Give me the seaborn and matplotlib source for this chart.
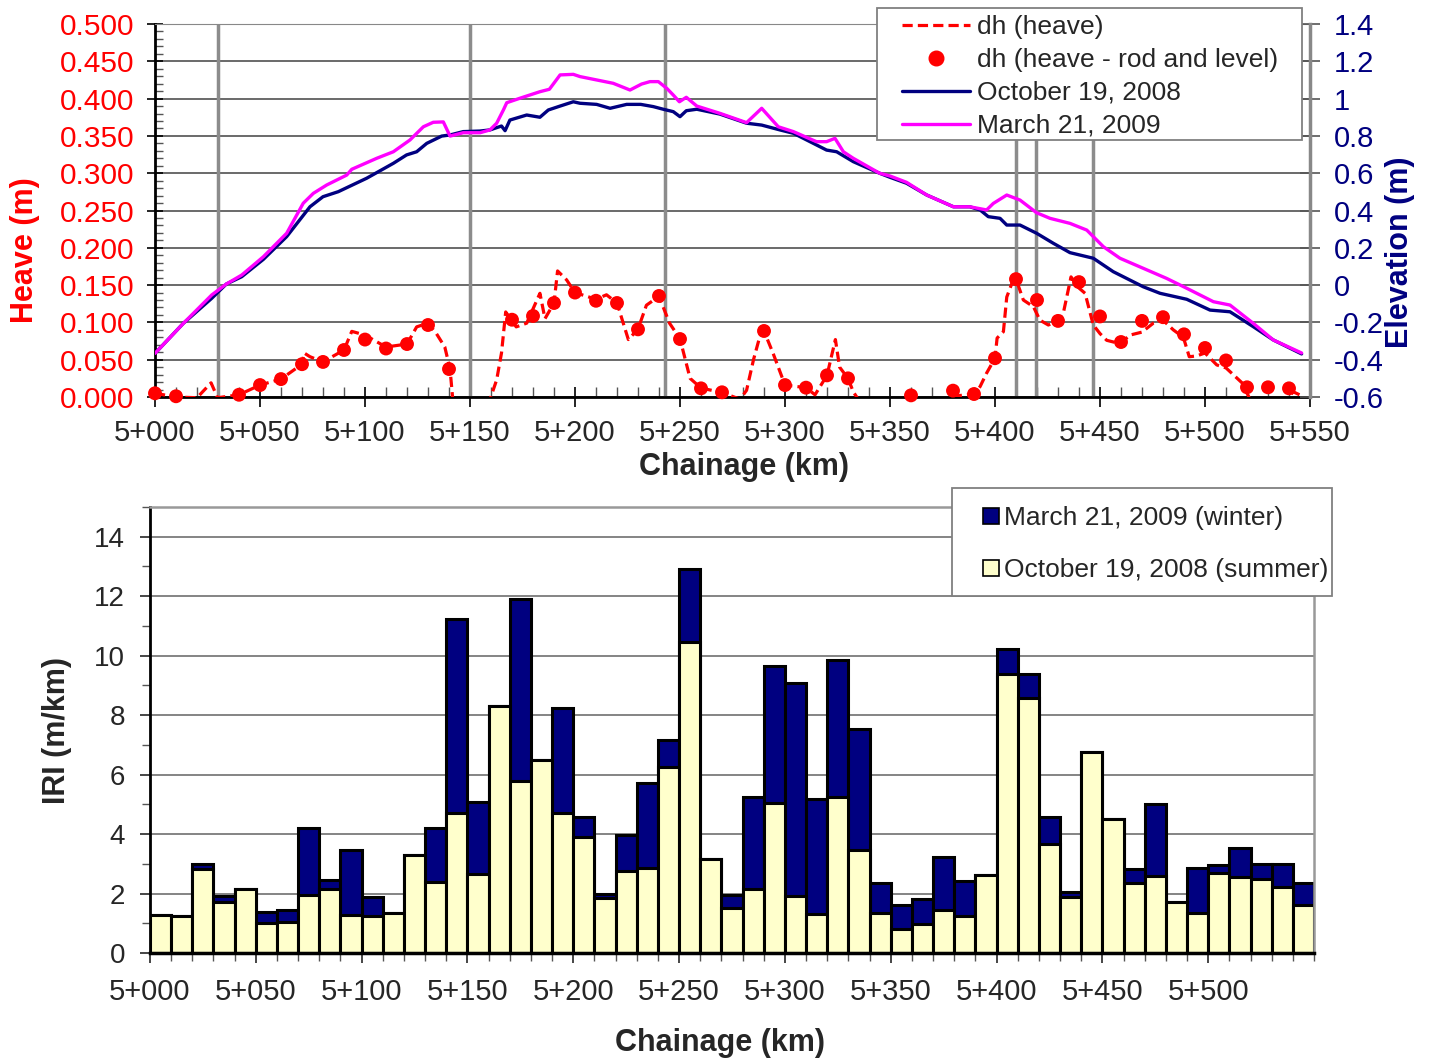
import matplotlib
matplotlib.use("Agg")
import numpy as np
import pandas as pd
import matplotlib.pyplot as plt
import seaborn as sns
from matplotlib.lines import Line2D
from matplotlib.patches import Rectangle
from matplotlib.ticker import MultipleLocator, FuncFormatter

# ---------------- top panel data ----------------
# elevation profiles (m), right axis
oct_chainage = [0, 13.5, 27, 34, 41.3, 51.6, 62.7, 73.8, 80, 87.3, 100.8, 113.5, 119.8, 124.6,
                129.4, 136.5, 140.5, 146.8, 154.8, 159.5, 165, 166.7, 169, 177, 183.3, 187.3,
                192.9, 199.2, 202.4, 210.3, 216.7, 224.6, 231.3, 237.3, 242, 246.8, 250, 253,
                258, 269, 281.7, 288.9, 297.6, 304, 313.5, 319.8, 324.6, 332.5, 345, 350,
                357.9, 367.5, 380.2, 388, 392.9, 396.8, 402.4, 405.6, 411.9, 419.8, 427.8,
                435.7, 446.8, 456.3, 470.6, 478.6, 491.3, 502.4, 511.9, 523, 532.5, 546]
oct_elev = [-0.366, -0.205, -0.071, 0.006, 0.045, 0.138, 0.260, 0.420, 0.474, 0.501, 0.573,
            0.653, 0.698, 0.715, 0.760, 0.799, 0.805, 0.823, 0.826, 0.832, 0.853, 0.828, 0.885,
            0.912, 0.900, 0.939, 0.960, 0.983, 0.975, 0.969, 0.948, 0.969, 0.969, 0.957, 0.943,
            0.930, 0.903, 0.935, 0.943, 0.917, 0.868, 0.858, 0.832, 0.814, 0.760, 0.724, 0.715,
            0.662, 0.600, 0.578, 0.546, 0.483, 0.420, 0.420, 0.403, 0.367, 0.358, 0.322, 0.322,
            0.278, 0.224, 0.174, 0.144, 0.072, -0.009, -0.044, -0.076, -0.134, -0.143, -0.223,
            -0.294, -0.369]

mar_chainage = [0, 13.5, 27, 34, 41.3, 51.6, 62.7, 70.6, 75.4, 81.8, 91.3, 93.7, 105.6, 113.5,
                121.4, 127.8, 132.5, 137.3, 140.5, 146.8, 154.8, 159.5, 162.7, 165.9, 167.5,
                173.8, 183.3, 187.8, 192.9, 199.2, 202.4, 218.2, 226.2, 231.7, 235.7, 239.7,
                243.7, 246.8, 249.7, 253, 258, 269, 281.7, 288.9, 296.8, 304, 315, 319.8, 323.8,
                327.8, 332.5, 345, 350, 357.9, 367.5, 380.2, 388, 396, 399.2, 405.6, 411.9,
                419.8, 426.2, 435.7, 443.7, 451.6, 459.5, 470.6, 481.7, 491.3, 504, 511.9, 523,
                532.5, 546]
mar_elev = [-0.366, -0.205, -0.053, 0.006, 0.054, 0.152, 0.278, 0.439, 0.492, 0.537, 0.590,
            0.621, 0.680, 0.715, 0.778, 0.849, 0.873, 0.875, 0.799, 0.817, 0.817, 0.832, 0.868,
            0.939, 0.978, 1.002, 1.037, 1.050, 1.127, 1.130, 1.118, 1.082, 1.046, 1.078, 1.091,
            1.091, 1.055, 1.019, 0.983, 1.007, 0.960, 0.921, 0.871, 0.948, 0.849, 0.823, 0.769,
            0.769, 0.787, 0.715, 0.680, 0.600, 0.585, 0.551, 0.483, 0.420, 0.420, 0.403, 0.438,
            0.483, 0.456, 0.388, 0.358, 0.331, 0.295, 0.206, 0.144, 0.090, 0.036, -0.017,
            -0.089, -0.107, -0.205, -0.294, -0.364]

# heave dh (m), left axis
dh_chainage = [0, 10, 20, 26.7, 29.8, 40, 50, 60, 70, 71, 73.8, 80, 90, 93.7, 100, 110, 120,
               124.6, 130, 134, 138, 140.5, 142, 158.7, 162.7, 165, 167, 172, 177, 183.3, 185.7,
               190, 191.7, 196, 200, 210, 215, 220, 225.4, 230, 234, 240, 245, 250, 254.8, 260,
               270, 278.6, 281.7, 285, 288, 290, 294.4, 300, 310, 314.3, 320, 324, 326, 330,
               332.5, 336.5, 377, 380, 390, 392.9, 396, 400, 401, 404, 405.6, 408, 410, 413.5,
               418.3, 421.4, 425.4, 430, 432.5, 436.2, 440, 442.9, 446.8, 450, 453.2, 459.5,
               464.3, 470, 475.4, 480, 484.9, 489.7, 492.5, 496, 500, 505.6, 510, 518, 522.5,
               537, 542, 545]
dh_values = [0.005, 0.0, -0.001, 0.019, -0.001, 0.003, 0.016, 0.024, 0.044, 0.059, 0.054, 0.047,
             0.063, 0.088, 0.083, 0.067, 0.071, 0.094, 0.099, 0.085, 0.067, 0.0375, -0.01, -0.01,
             0.023, 0.059, 0.114, 0.094, 0.099, 0.139, 0.105, 0.126, 0.169, 0.157, 0.140, 0.131,
             0.137, 0.126, 0.077, 0.091, 0.123, 0.135, 0.099, 0.078, 0.025, 0.012, 0.006, -0.003,
             0.009, 0.050, 0.081, 0.0885, 0.058, 0.016, 0.0125, 0.003, 0.029, 0.077, 0.040,
             0.025, 0.007, -0.01, -0.01, 0.001, 0.004, 0.014, 0.032, 0.052, 0.079, 0.0875,
             0.134, 0.152, 0.158, 0.130, 0.121, 0.103, 0.0965, 0.102, 0.112, 0.161, 0.146,
             0.139, 0.0965, 0.085, 0.076, 0.0715, 0.083, 0.087, 0.099, 0.103, 0.090, 0.080,
             0.054, 0.055, 0.059, 0.043, 0.039, 0.018, -0.01, -0.01, 0.007, 0.003]

# heave from rod and level survey
rod_chainage = [0, 10, 40, 50, 60, 70, 80, 90, 100, 110, 120, 130, 140, 170, 180, 190, 200, 210,
                220, 230, 240, 250, 260, 270, 290, 300, 310, 320, 330, 360, 380, 390, 400, 410,
                420, 430, 440, 450, 460, 470, 480, 490, 500, 510, 520, 530, 540]
rod_heave = [0.005, 0.001, 0.003, 0.016, 0.024, 0.044, 0.047, 0.063, 0.077, 0.065, 0.071, 0.0965,
             0.0375, 0.1036, 0.1086, 0.126, 0.140, 0.129, 0.126, 0.0907, 0.1354, 0.0777, 0.0116,
             0.0063, 0.0885, 0.016, 0.0125, 0.029, 0.025, 0.0022, 0.0085, 0.004, 0.052, 0.158,
             0.130, 0.102, 0.154, 0.108, 0.0737, 0.102, 0.107, 0.084, 0.0657, 0.049, 0.013,
             0.013, 0.0116]

# chainages marked with vertical lines
marker_chainages = [30, 150, 243, 410, 419.5, 446.7]

# ---------------- bottom panel data ----------------
iri_start = list(range(0, 550, 10))
iri_winter = [1.28, 1.23, 3.01, 1.92, 2.14, 1.38, 1.45, 4.19, 2.47, 3.46,
              1.90, 1.35, 3.29, 4.20, 11.24, 5.07, 8.31, 11.9, 6.48, 8.25,
              4.56, 1.98, 3.98, 5.72, 7.15, 12.9, 3.15, 1.96, 5.23, 9.65,
              9.07, 5.18, 9.85, 7.55, 2.37, 1.61, 1.81, 3.23, 2.41, 2.63,
              10.21, 9.375, 4.58, 2.06, 6.75, 4.52, 2.81, 5.02, 1.73, 2.85,
              2.96, 3.52, 2.98, 2.98, 2.37]
iri_summer = [1.28, 1.23, 2.83, 1.73, 2.14, 1.00, 1.05, 1.95, 2.14, 1.28,
              1.25, 1.33, 3.29, 2.40, 4.71, 2.65, 8.31, 5.79, 6.48, 4.72,
              3.91, 1.86, 2.76, 2.87, 6.26, 10.45, 3.15, 1.53, 2.15, 5.05,
              1.92, 1.31, 5.25, 3.45, 1.33, 0.80, 0.97, 1.44, 1.23, 2.63,
              9.40, 8.57, 3.68, 1.90, 6.75, 4.52, 2.34, 2.59, 1.73, 1.34,
              2.68, 2.54, 2.49, 2.23, 1.62]

NAVY = '#000080'
MAGENTA = '#FF00FF'
RED = '#FF0000'
CREAM = '#FFFFCC'

sns.set_style('white')
plt.rcParams['font.family'] = ['Liberation Sans', 'DejaVu Sans']

W, H = 1432, 1063
fig = plt.figure(figsize=(W / 100, H / 100), dpi=100)


def px_box(x0, y0, x1, y1):
    # pixel box (top-left origin) -> figure fraction rect
    return (x0 / W, 1 - y1 / H), (x1 - x0) / W, (y1 - y0) / H


chain_fmt = FuncFormatter(lambda v, p: f"5+{int(round(v)):03d}")

# ======== top: heave and elevation ========
ax1 = fig.add_axes([155 / W, 1 - 397 / H, (1310 - 155) / W, (397 - 24) / H])
ax1.set_xlim(0, 550)
ax1.set_ylim(0, 0.5)
ax1.yaxis.set_major_locator(MultipleLocator(0.05))
ax1.yaxis.set_minor_locator(MultipleLocator(0.01))
ax1.yaxis.set_major_formatter(FuncFormatter(lambda v, p: f"{v:.3f}"))
ax1.xaxis.set_major_locator(MultipleLocator(50))
ax1.xaxis.set_minor_locator(MultipleLocator(10))
ax1.xaxis.set_major_formatter(chain_fmt)
ax1.grid(axis='y', which='major', color='#505050', lw=1.2)
ax1.set_axisbelow(True)

for c in marker_chainages:
    ax1.axvline(c, color='#8c8c8c', lw=2.5, zorder=1.5)

top_df = pd.DataFrame({'chainage': dh_chainage, 'dh': dh_values})
sns.lineplot(data=top_df, x='chainage', y='dh', ax=ax1, color=RED, lw=2.3,
             linestyle=(0, (3.2, 1.6)), sort=False, estimator=None, zorder=3)
rod_df = pd.DataFrame({'chainage': rod_chainage, 'dh': rod_heave})
sns.scatterplot(data=rod_df, x='chainage', y='dh', ax=ax1, color=RED, s=100,
                edgecolor='none', zorder=4, clip_on=False)

ax1.tick_params(axis='y', which='major', direction='inout', length=12, width=1.2,
                labelsize=21.5, labelcolor=RED, pad=9, color='black')
ax1.tick_params(axis='y', which='minor', direction='in', length=6, width=1, color='#555555')
ax1.tick_params(axis='x', which='major', direction='inout', length=14, width=1.2,
                labelsize=21, pad=9, color='black')
ax1.tick_params(axis='x', which='minor', direction='in', length=7, width=1, color='#555555')
ax1.tick_params(left=True, bottom=True, which='both')
for s in ['left', 'bottom']:
    ax1.spines[s].set_color('black')
    ax1.spines[s].set_linewidth(2)
ax1.spines['top'].set_color('#888888')
ax1.spines['right'].set_visible(False)

ax1.set_xlabel('Chainage (km)', fontsize=22, fontweight='bold')
ax1.xaxis.set_label_coords(0.51, -0.188)
ax1.xaxis.label.set_va('center')
ax1.set_ylabel('Heave (m)', fontsize=22, fontweight='bold', color=RED)
ax1.yaxis.set_label_coords(-0.1126, 0.394)
ax1.yaxis.label.set_va('center')

ax2 = ax1.twinx()
ax2.set_ylim(-0.6, 1.4)
ax2.set_xlim(0, 550)
ax2.yaxis.set_major_locator(MultipleLocator(0.2))
ax2.yaxis.set_major_formatter(FuncFormatter(lambda v, p: f"{round(v, 1) + 0.0:g}"))
oct_df = pd.DataFrame({'chainage': oct_chainage, 'elev': oct_elev})
mar_df = pd.DataFrame({'chainage': mar_chainage, 'elev': mar_elev})
sns.lineplot(data=oct_df, x='chainage', y='elev', ax=ax2, color=NAVY, lw=2.4,
             sort=False, estimator=None)
sns.lineplot(data=mar_df, x='chainage', y='elev', ax=ax2, color=MAGENTA, lw=2.4,
             sort=False, estimator=None)
ax2.tick_params(axis='y', which='major', direction='inout', length=14, width=1.2,
                labelsize=21, labelcolor=NAVY, pad=10, color='#555555', right=True)
ax2.spines['right'].set_color('#888888')
ax2.spines['right'].set_linewidth(2.5)
for s in ['left', 'top', 'bottom']:
    ax2.spines[s].set_visible(False)
ax2.set_ylabel('Elevation (m)', fontsize=22, fontweight='bold', color=NAVY, rotation=90)
ax2.yaxis.set_label_coords(1.078, 0.389)
ax2.yaxis.label.set_va('center')
ax2.set_xlabel('')

# legend frames drawn as figure patches, legends placed inside them
for (x0, y0, x1, y1) in [(877, 8, 1302, 140), (952, 488, 1332, 596)]:
    xy, w, h = px_box(x0, y0, x1, y1)
    fig.patches.append(Rectangle(xy, w, h, transform=fig.transFigure, facecolor='white',
                                 edgecolor='#808080', lw=1.3, zorder=2))

top_handles = [
    Line2D([], [], color=RED, lw=2.3, linestyle=(0, (3.2, 1.6))),
    Line2D([], [], color=RED, lw=0, marker='o', markersize=10.5),
    Line2D([], [], color=NAVY, lw=2.4),
    Line2D([], [], color=MAGENTA, lw=2.4),
]
top_labels = ['dh (heave)', 'dh (heave - rod and level)', 'October 19, 2008', 'March 21, 2009']
fig.legend(top_handles, top_labels, loc='upper left',
           bbox_to_anchor=(902 / W, 1 - 15 / H), bbox_transform=fig.transFigure,
           fontsize=19, frameon=False, borderaxespad=0, borderpad=0,
           handlelength=2.58, handletextpad=0.27, labelspacing=0.34)

# ======== bottom: IRI ========
ax3 = fig.add_axes([150 / W, 1 - 953 / H, 1164 / W, 446 / H])
edges = iri_start + [iri_start[-1] + 10]
sns.histplot(x=iri_start, weights=iri_winter, bins=edges, ax=ax3, color=NAVY,
             edgecolor='black', linewidth=2.2, alpha=1, stat='count')
sns.histplot(x=iri_start, weights=iri_summer, bins=edges, ax=ax3, color=CREAM,
             edgecolor='black', linewidth=2.2, alpha=1, stat='count')
ax3.set_xlim(0, 550)
ax3.set_ylim(0, 15)
ax3.yaxis.set_minor_locator(MultipleLocator(1))
ax3.set_yticks(np.arange(0, 15, 2))
ax3.xaxis.set_minor_locator(MultipleLocator(10))
ax3.set_xticks(np.arange(0, 501, 50))
ax3.xaxis.set_major_formatter(chain_fmt)
ax3.grid(axis='y', which='major', color='#707070', lw=1.2)
ax3.set_axisbelow(True)
ax3.tick_params(axis='both', which='both', direction='out', left=True, bottom=True)
ax3.tick_params(axis='x', which='major', length=7, width=1.2, labelsize=21, pad=11)
ax3.tick_params(axis='y', which='major', length=7, width=1.2, labelsize=20, pad=11)
ax3.tick_params(axis='both', which='minor', length=6, width=1, color='#555555')
ax3.spines['left'].set_color('black')
ax3.spines['left'].set_linewidth(2)
ax3.spines['bottom'].set_color('black')
ax3.spines['bottom'].set_linewidth(2.5)
for s in ['top', 'right']:
    ax3.spines[s].set_color('#999999')
    ax3.spines[s].set_linewidth(1.8)

ax3.set_xlabel('Chainage (km)', fontsize=22, fontweight='bold')
ax3.xaxis.set_label_coords(0.4897, -0.202)
ax3.xaxis.label.set_va('center')
ax3.set_ylabel('IRI (m/km)', fontsize=22, fontweight='bold')
ax3.yaxis.set_label_coords(-0.0799, 0.498)
ax3.yaxis.label.set_va('center')

bot_handles = [
    Line2D([], [], lw=0, marker='s', markersize=11, markerfacecolor=NAVY,
           markeredgecolor='black', markeredgewidth=1.2),
    Line2D([], [], lw=0, marker='s', markersize=11, markerfacecolor=CREAM,
           markeredgecolor='black', markeredgewidth=1.2),
]
bot_labels = ['March 21, 2009 (winter)', 'October 19, 2008 (summer)']
fig.legend(bot_handles, bot_labels, loc='upper left',
           bbox_to_anchor=(980 / W, 1 - 506 / H), bbox_transform=fig.transFigure,
           fontsize=19, frameon=False, borderaxespad=0, borderpad=0,
           handlelength=0.8, handletextpad=0.12, labelspacing=1.06)

fig.savefig('out.png', dpi=100)
